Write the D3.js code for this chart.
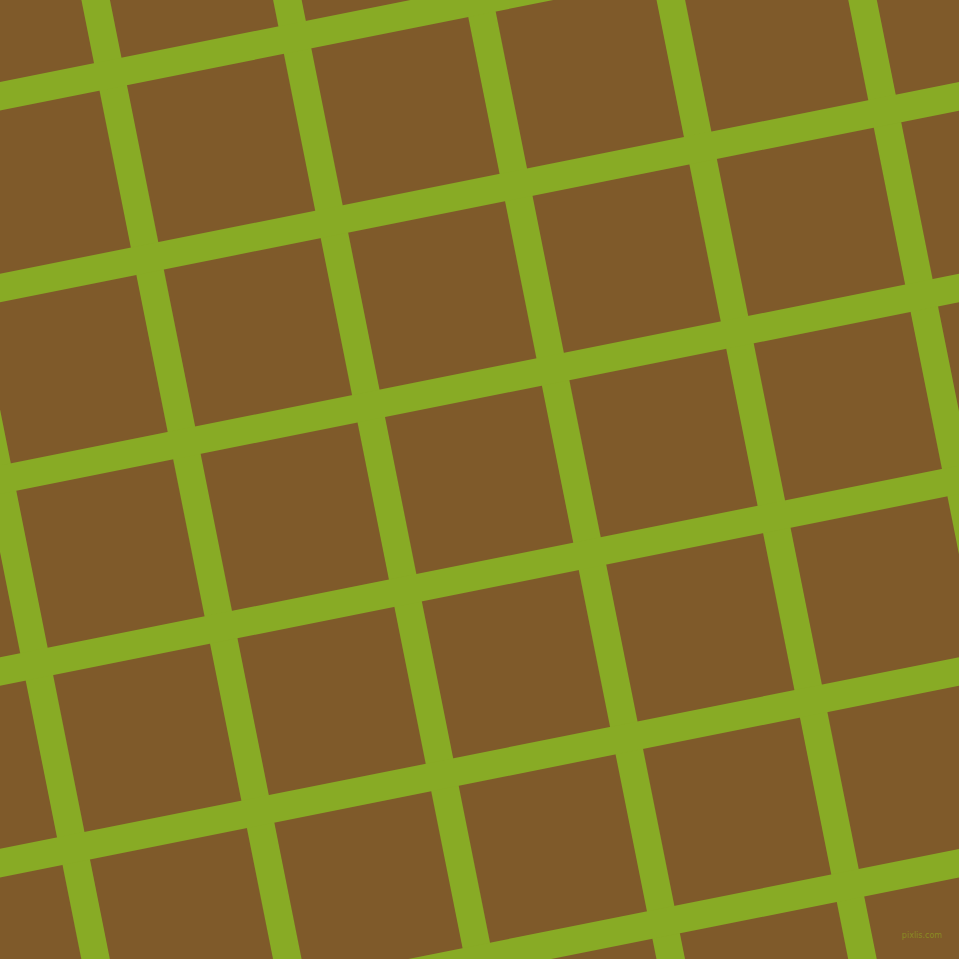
<!DOCTYPE html>
<html>
<head>
<meta charset="utf-8">
<script src="https://cdn.jsdelivr.net/npm/d3@7"></script>
<style>
  html, body { margin: 0; padding: 0; background: #7f5a2a; }
  svg { display: block; }
</style>
</head>
<body>
<script>
// grid line indices in the tilted frame
const colIdx = [-2, -1, 0, 1, 2, 3, 4, 5, 6];
const rowIdx = [-2, -1, 0, 1, 2, 3, 4, 5, 6];
const watermark = ["pixlis.com"];

const width = 959, height = 959;
const tilt = -11.3;          // degrees
const origin = [110.5, 74.2]; // where line 0 meets line 0
const cell = 188;

const svg = d3.select("body").append("svg")
    .attr("width", width)
    .attr("height", height);

svg.append("rect")
    .attr("width", width)
    .attr("height", height)
    .attr("fill", "#7f5a2a");

const pos = d3.scaleLinear().domain([0, 1]).range([0, cell]);

const g = svg.append("g")
    .attr("transform", `translate(${origin[0]},${origin[1]}) rotate(${tilt})`);

// vertical-ish lines
g.selectAll("line.col")
  .data(colIdx)
  .join("line")
    .attr("class", "col")
    .attr("x1", d => pos(d)).attr("x2", d => pos(d))
    .attr("y1", -800).attr("y2", 1800)
    .attr("stroke", "#88ab25")
    .attr("stroke-width", 28);

// horizontal-ish lines
g.selectAll("line.row")
  .data(rowIdx)
  .join("line")
    .attr("class", "row")
    .attr("y1", d => pos(d)).attr("y2", d => pos(d))
    .attr("x1", -800).attr("x2", 1800)
    .attr("stroke", "#88ab25")
    .attr("stroke-width", 28);

svg.selectAll("text.wm")
  .data(watermark)
  .join("text")
    .attr("class", "wm")
    .attr("x", 922).attr("y", 938)
    .attr("text-anchor", "middle")
    .attr("fill", "#8a8a22")
    .attr("font-family", "DejaVu Sans, sans-serif")
    .attr("font-size", 8)
    .text(d => d);
</script>
</body>
</html>
